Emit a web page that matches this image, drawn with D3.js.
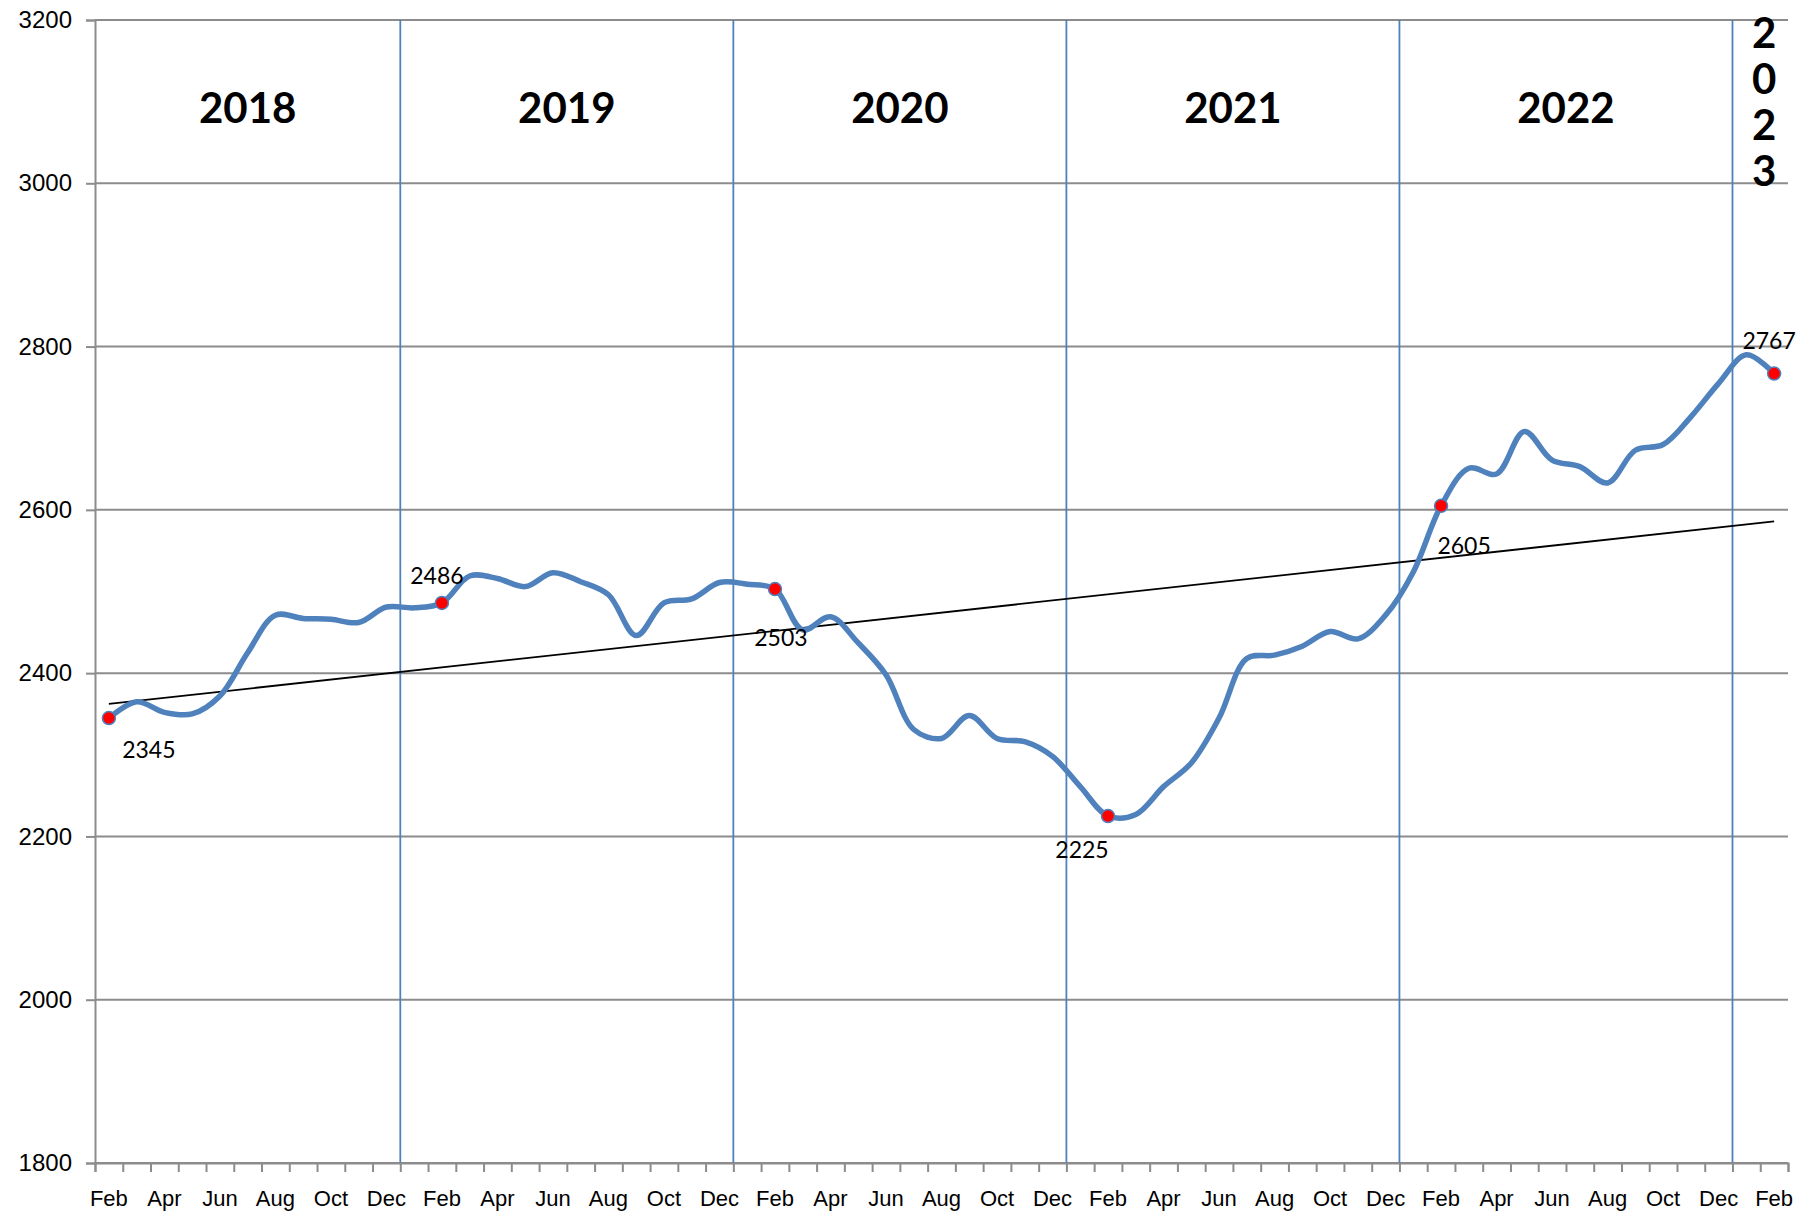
<!DOCTYPE html>
<html>
<head>
<meta charset="utf-8">
<script src="https://cdn.jsdelivr.net/npm/d3@7"></script>
<style>
  body { margin: 0; background: #fff; }
  svg { display: block; font-family: Lato, "Open Sans", sans-serif; }
</style>
</head>
<body>
<svg id="chart" width="1818" height="1225"></svg>
<script>

// monthly values, Feb 2018 .. Feb 2023
var values = [2345, 2365, 2352, 2350, 2372, 2425, 2471, 2467, 2466, 2462, 2481, 2480,
              2486, 2519, 2516, 2506, 2523, 2512, 2496, 2446, 2486, 2491, 2511, 2509,
              2503, 2453, 2469, 2437, 2398, 2331, 2320, 2348, 2320, 2316, 2298, 2261,
              2225, 2227, 2261, 2290, 2345, 2418, 2422, 2433, 2451, 2442, 2471, 2524,
              2605, 2651, 2644, 2696, 2661, 2653, 2633, 2673, 2680, 2714, 2755, 2790,
              2767];

var monthNames = ["Jan", "Feb", "Mar", "Apr", "May", "Jun", "Jul", "Aug", "Sep", "Oct", "Nov", "Dec"];
var months = d3.utcMonth.range(new Date(Date.UTC(2018, 1, 1)), new Date(Date.UTC(2023, 2, 1)));
var categories = months.map(d => monthNames[d.getUTCMonth()] + " " + d.getUTCFullYear());

var years = ["2018", "2019", "2020", "2021", "2022", "2023"];
var yTicks = [1800, 2000, 2200, 2400, 2600, 2800, 3000, 3200];

// points that carry a value label (Feb of each year)
var labelled = ["Feb 2018", "Feb 2019", "Feb 2020", "Feb 2021", "Feb 2022", "Feb 2023"];

var data = categories.map((c, i) => ({cat: c, date: months[i], v: values[i]}));

var svg = d3.select("#chart");
var margin = {top: 20, right: 30, bottom: 62, left: 95};
var width = 1818 - margin.left - margin.right;
var height = 1225 - margin.top - margin.bottom;
var g = svg.append("g").attr("transform", "translate(" + margin.left + "," + margin.top + ")");

var x = d3.scaleBand().domain(categories).range([0, width]).padding(0);
var y = d3.scaleLinear().domain([1800, 3200]).range([height, 0]);
var cx = d => x(d.cat) + x.bandwidth() / 2;

// horizontal grid
g.append("g").selectAll("line")
    .data(yTicks)
    .enter().append("line")
    .attr("x1", 0).attr("x2", width)
    .attr("y1", d => y(d)).attr("y2", d => y(d))
    .attr("stroke", "#8c8c8c").attr("stroke-width", 2);

// year separators (at each January)
var janCats = data.filter(d => d.date.getUTCMonth() === 0).map(d => d.cat);
g.append("g").selectAll("line")
    .data(janCats)
    .enter().append("line")
    .attr("x1", d => x(d)).attr("x2", d => x(d))
    .attr("y1", 0).attr("y2", height)
    .attr("stroke", "#4f81bd").attr("stroke-width", 1.8);

// y axis
var yAxis = g.append("g")
    .call(d3.axisLeft(y).tickValues(yTicks).tickFormat(d3.format("d")).tickSize(9).tickPadding(14));
yAxis.select(".domain").attr("stroke", "#8c8c8c").attr("stroke-width", 2);
yAxis.selectAll(".tick line").attr("stroke", "#8c8c8c").attr("stroke-width", 2);
yAxis.selectAll("text").attr("font-size", 24).attr("fill", "#000");

// x axis: tick marks at the month boundaries
var xb = d3.scaleLinear().domain([0, categories.length]).range([0, width]);
var xTicks = g.append("g")
    .attr("transform", "translate(0," + height + ")")
    .call(d3.axisBottom(xb).tickValues(d3.range(0, categories.length + 1)).tickSize(9).tickFormat(""));
xTicks.select(".domain").attr("stroke", "#8c8c8c").attr("stroke-width", 2);
xTicks.selectAll(".tick line").attr("stroke", "#8c8c8c").attr("stroke-width", 2);

// x labels every second month
var xLabels = g.append("g")
    .attr("transform", "translate(0," + height + ")")
    .call(d3.axisBottom(x).tickValues(categories.filter((c, i) => i % 2 === 0))
        .tickSize(0).tickPadding(27).tickFormat(c => c.split(" ")[0]));
xLabels.select(".domain").remove();
xLabels.selectAll("text").attr("font-size", 22).attr("fill", "#000");

// year headers
var bounds = [categories[0]].concat(janCats);
years.forEach(function(yr, i){
    var x0 = x(bounds[i]);
    var x1 = i + 1 < bounds.length ? x(bounds[i + 1]) : width;
    if (i < years.length - 1) {
        g.append("text")
            .attr("x", (x0 + x1) / 2).attr("y", 92)
            .attr("text-anchor", "middle").attr("dominant-baseline", "middle")
            .attr("font-size", 42).attr("font-weight", "bold")
            .text(yr);
    } else {
        g.append("g").selectAll("text")
            .data(yr.split(""))
            .enter().append("text")
            .attr("x", (x0 + x1) / 2 + 4)
            .attr("y", (d, k) => 17 + k * 46)
            .attr("text-anchor", "middle").attr("dominant-baseline", "middle")
            .attr("font-size", 42).attr("font-weight", "bold")
            .text(d => d);
    }
});

// linear trend
var n = data.length;
var mx = d3.mean(data, (d, i) => i), my = d3.mean(data, d => d.v);
var slope = d3.sum(data, (d, i) => (i - mx) * (d.v - my)) / d3.sum(data, (d, i) => (i - mx) * (i - mx));
var icpt = my - slope * mx;
g.append("line")
    .attr("x1", cx(data[0])).attr("y1", y(icpt))
    .attr("x2", cx(data[n - 1])).attr("y2", y(icpt + slope * (n - 1)))
    .attr("stroke", "#000").attr("stroke-width", 1.8);

// smoothed series
var line = d3.line().x(cx).y(d => y(d.v)).curve(d3.curveCatmullRom.alpha(0.5));
g.append("path")
    .datum(data)
    .attr("d", line)
    .attr("fill", "none")
    .attr("stroke", "#4f81bd")
    .attr("stroke-width", 5.5)
    .attr("stroke-linejoin", "round");

// marked points
var marks = data.filter(d => labelled.indexOf(d.cat) >= 0);
var labelPos = [[40, 34], [-5, -25], [6, 51], [-26, 36], [23, 42], [-5, -30]];

g.append("g").selectAll("circle")
    .data(marks)
    .enter().append("circle")
    .attr("cx", cx).attr("cy", d => y(d.v))
    .attr("r", 6.5)
    .attr("fill", "#ff0000")
    .attr("stroke", "#4f81bd").attr("stroke-width", 1.5);

g.append("g").selectAll("text")
    .data(marks)
    .enter().append("text")
    .attr("x", (d, i) => cx(d) + labelPos[i][0])
    .attr("y", (d, i) => y(d.v) + labelPos[i][1])
    .attr("text-anchor", "middle").attr("dominant-baseline", "middle")
    .attr("font-size", 23)
    .text(d => d.v);

</script>
</body>
</html>
